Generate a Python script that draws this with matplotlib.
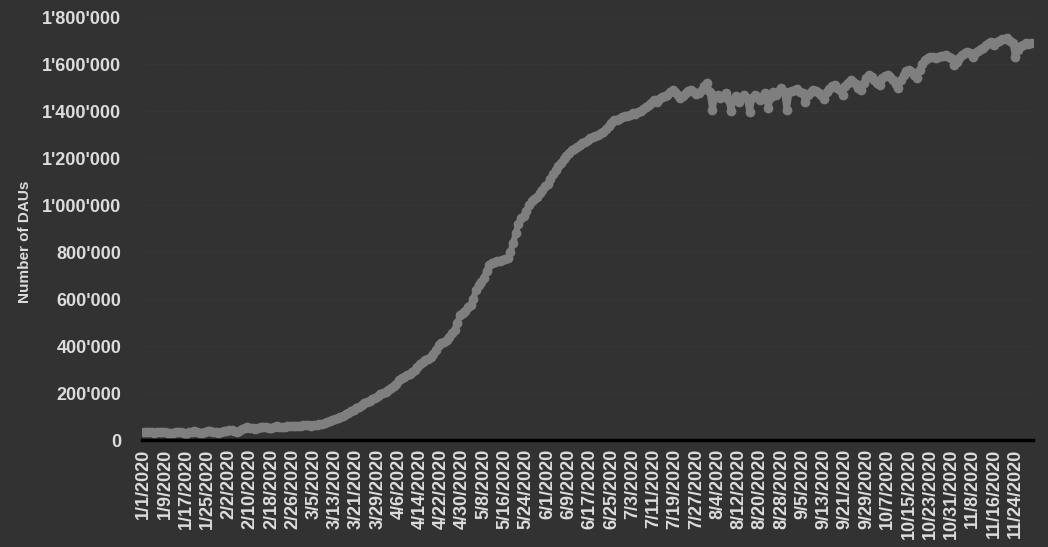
import matplotlib
matplotlib.use("Agg")
import matplotlib.pyplot as plt
from matplotlib.ticker import FuncFormatter
import pandas as pd
import numpy as np

start_date = "2020-01-01"

# Daily active users in thousands, per month
jan = [36,35,34,33,30,32,34,36,33,30,28,31,35,36,34,30,27,32,36,37,35,31,29,33,37,38,36,32,30,35,38]
feb = [40,42,41,38,36,40,46,52,55,53,50,48,52,55,56,54,52,53,56,58,57,55,56,59,61,60,58,59,61]
mar = [62,63,62,61,62,64,66,68,72,78,82,86,88,92,98,104,110,116,122,128,135,142,150,158,163,168,174,180,188,194,200]
apr = [205,212,220,228,240,255,265,270,275,282,290,300,312,322,332,340,345,352,365,385,405,412,415,425,440,455,470,500,530,540]
may = [550,566,575,600,640,660,672,690,720,745,755,759,760,762,765,770,774,800,838,880,920,945,952,975,1000,1015,1025,1034,1050,1065,1080]
jun = [1090,1110,1130,1149,1165,1180,1195,1210,1220,1232,1240,1247,1255,1262,1270,1278,1285,1290,1295,1300,1306,1312,1322,1335,1348,1360,1362,1368,1374,1378]
jul = [1380,1385,1392,1388,1395,1402,1410,1415,1425,1435,1447,1440,1450,1460,1465,1470,1480,1489,1482,1470,1455,1462,1475,1485,1489,1480,1472,1478,1490,1505,1519]
aug = [1480,1404,1460,1470,1455,1465,1475,1450,1400,1450,1465,1440,1460,1470,1455,1395,1455,1470,1460,1445,1465,1476,1412,1460,1480,1470,1485,1497,1480,1404,1480]
sep = [1485,1490,1495,1480,1475,1440,1470,1480,1490,1485,1475,1470,1450,1480,1495,1505,1510,1500,1490,1470,1505,1520,1530,1525,1515,1500,1490,1520,1540,1553]
oct_ = [1545,1530,1520,1510,1540,1550,1553,1545,1530,1515,1500,1530,1555,1570,1574,1565,1555,1540,1575,1600,1615,1625,1630,1630,1625,1630,1632,1634,1640,1630,1625]
nov = [1596,1610,1625,1640,1647,1650,1648,1630,1645,1655,1665,1670,1680,1690,1693,1680,1695,1700,1705,1708,1710,1700,1690,1630,1660,1675,1680,1689,1685,1690]

dau_thousands = jan + feb + mar + apr + may + jun + jul + aug + sep + oct_ + nov
dau = np.array(dau_thousands) * 1000
dates = pd.date_range(start_date, periods=len(dau), freq="D")
date_labels = [f"{d.month}/{d.day}/{d.year}" for d in dates]
tick_step = 8

bg = "#323232"
txt = "#dcdcdc"
fig = plt.figure(figsize=(10.48, 5.47), dpi=100, facecolor=bg)
ax = fig.add_axes([0.1355, 0.1956, 0.8502, 0.7733], facecolor=bg)

x = np.arange(len(dau))
ax.plot(x, dau, color="#7f7f7f", lw=4.5, marker="o", ms=6, mec="#7f7f7f", mfc="#7f7f7f", zorder=3)

ax.set_ylim(0, 1800000)
ax.set_xlim(-0.7, len(dau) - 0.3)
ax.set_yticks(np.arange(0, 1800001, 200000))
ax.yaxis.set_major_formatter(FuncFormatter(lambda v, p: f"{v:,.0f}".replace(",", "'")))
ax.set_xticks(x[::tick_step])
ax.set_xticklabels(date_labels[::tick_step], rotation=90)

ax.grid(axis="y", color="#3e3e3e", linestyle=(0, (1, 2)), lw=0.8, zorder=0)
for s in ["top", "right", "left"]:
    ax.spines[s].set_visible(False)
ax.spines["bottom"].set_color("black")
ax.spines["bottom"].set_linewidth(2.5)
ax.spines["bottom"].set_zorder(4)
ax.tick_params(axis="both", length=0, colors=txt, labelsize=13, labelfontfamily="Liberation Sans")
for lab in ax.get_xticklabels() + ax.get_yticklabels():
    lab.set_fontweight("bold")
ax.tick_params(axis="y", pad=15)
ax.tick_params(axis="x", pad=6)
ax.set_ylabel("Number of DAUs", color=txt, fontsize=11, family="Liberation Sans", fontweight="bold")
ax.yaxis.set_label_coords(-0.1235, 0.468)

fig.savefig("out.png", dpi=100, facecolor=bg)
